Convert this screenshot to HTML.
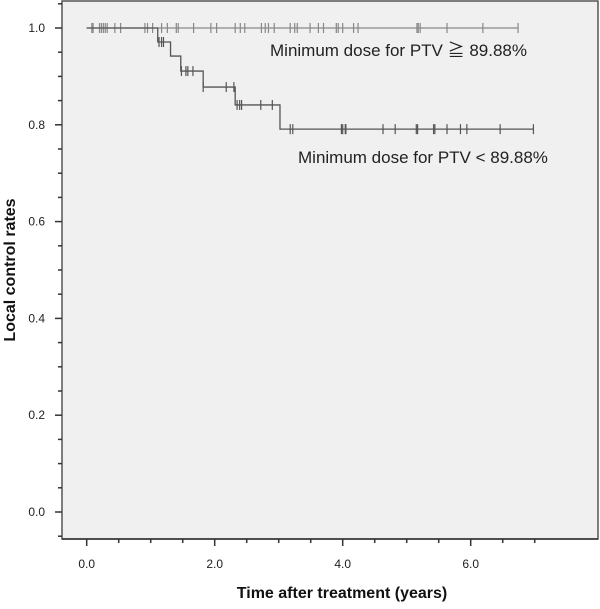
<!DOCTYPE html>
<html><head><meta charset="utf-8"><style>
body{margin:0;background:#fff;}
svg text{font-family:"Liberation Sans","Noto Sans CJK JP",sans-serif;}
</style></head><body>
<svg id="chart" width="600" height="604" xmlns="http://www.w3.org/2000/svg">
<rect x="62" y="1" width="536" height="538" fill="#f0f0f0" stroke="#555" stroke-width="1.5"/>
<g id="axes"></g>
<g id="series"></g>
<text x="270" y="56" font-size="17" fill="#222">Minimum dose for PTV ≧ 89.88%</text>
<text x="298" y="163" font-size="17" fill="#222">Minimum dose for PTV &lt; 89.88%</text>
<text x="342" y="598" font-size="16" font-weight="bold" text-anchor="middle" fill="#111">Time after treatment (years)</text>
<text transform="translate(15,270) rotate(-90)" font-size="16" font-weight="bold" text-anchor="middle" fill="#111">Local control rates</text>
</svg>
<script>
const xTicks=[0,2,4,6];
const xTickLabels=["0.0","2.0","4.0","6.0"];
const yTicks=[0,0.2,0.4,0.6,0.8,1.0];
const yTickLabels=["0.0","0.2","0.4","0.6","0.8","1.0"];
const g1StepTimes=[0,6.74];
const g1StepValues=[1.0,1.0];
const g1Censor=[0.08,0.10,0.20,0.23,0.26,0.29,0.32,0.44,0.53,0.91,0.95,1.03,1.17,1.26,1.40,1.43,1.67,1.94,2.03,2.32,2.40,2.47,2.73,2.79,2.84,2.93,3.18,3.25,3.29,3.49,3.62,3.70,3.90,3.93,4.00,4.17,4.24,5.16,5.18,5.21,5.63,6.19,6.74];
const g2StepTimes=[0,1.11,1.31,1.47,1.82,2.32,3.02,6.98];
const g2StepValues=[1.0,0.971,0.942,0.911,0.878,0.841,0.791,0.791];
const g2CensorT=[1.13,1.17,1.20,1.48,1.55,1.58,1.66,1.82,2.18,2.30,2.35,2.39,2.42,2.72,2.90,3.18,3.22,3.98,4.04,4.00,4.05,4.63,4.82,5.15,5.17,5.42,5.44,5.63,5.84,5.94,6.46,6.98];
const g2CensorV=[0.971,0.971,0.971,0.911,0.911,0.911,0.911,0.878,0.878,0.878,0.841,0.841,0.841,0.841,0.841,0.791,0.791,0.791,0.791,0.791,0.791,0.791,0.791,0.791,0.791,0.791,0.791,0.791,0.791,0.791,0.791,0.791];
const NS="http://www.w3.org/2000/svg";
const xS=t=>86.7+t*64;
const yS=v=>512-v*484;
function mk(tag,attrs,parent){const e=document.createElementNS(NS,tag);for(const k in attrs)e.setAttribute(k,attrs[k]);parent.appendChild(e);return e;}
const axes=document.getElementById('axes');
const series=document.getElementById('series');
// x axis
let xl=mk('line',{x1:62,x2:598,y1:539,y2:539,stroke:'#333','stroke-width':1.5},axes);


for(let t=0;t<=7.01;t+=0.5){
  const major=Math.abs(t%2)<0.01;
  const tk=mk('line',{x1:xS(t),x2:xS(t),y1:539,y2:major?546:543,stroke:'#333','stroke-width':1.5},axes);
  
  
}
xTicks.forEach((t,i)=>{
  const tx=mk('text',{x:xS(t),y:568,'font-size':12,'text-anchor':'middle',fill:'#222'},axes);
  tx.textContent=xTickLabels[i];
  
  
});
for(let v=-0.05;v<=1.101;v+=0.05){
  const major=Math.abs(Math.round(v*100)%20)<1 && v>-0.01;
  const y=yS(v);
  if(y<2||y>538)continue;
  const tk=mk('line',{x1:major?55:58,x2:62,y1:y,y2:y,stroke:'#333','stroke-width':1.5},axes);
  
  
}
yTicks.forEach((v,i)=>{
  const tx=mk('text',{x:45,y:yS(v)+4,'font-size':12,'text-anchor':'end',fill:'#222'},axes);
  tx.textContent=yTickLabels[i];
  
  
});
function stepPath(ts,vs){let d='M'+xS(ts[0])+','+yS(vs[0]);for(let i=1;i<ts.length;i++){d+=' H'+xS(ts[i])+' V'+yS(vs[i]);}return d;}
const p1=mk('path',{d:stepPath(g1StepTimes,g1StepValues),fill:'none',stroke:'#888','stroke-width':1.3},series);


g1Censor.forEach(t=>{
  const c=mk('line',{x1:xS(t),x2:xS(t),y1:yS(1)-5,y2:yS(1)+5,stroke:'#888','stroke-width':1.2},series);
  
  
});
const p2=mk('path',{d:stepPath(g2StepTimes,g2StepValues),fill:'none',stroke:'#555','stroke-width':1.3},series);


g2CensorT.forEach((t,i)=>{
  const y=yS(g2CensorV[i]);
  const c=mk('line',{x1:xS(t),x2:xS(t),y1:y-5,y2:y+5,stroke:'#555','stroke-width':1.2},series);
  
  
});
</script>
</body></html>
